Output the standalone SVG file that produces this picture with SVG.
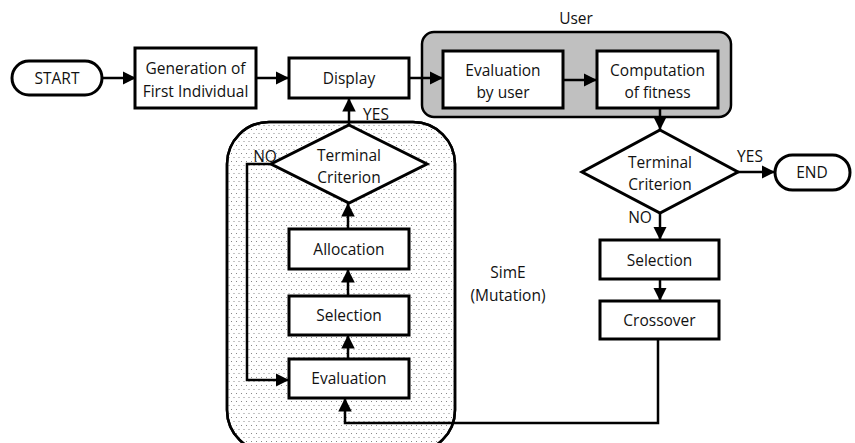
<svg xmlns="http://www.w3.org/2000/svg" width="855" height="443" viewBox="0 0 855 443">
<style>
.box{fill:#fff;stroke:#000;stroke-width:3}
.t{font-family:"Open Sans","Noto Sans",sans-serif;font-size:15.5px;fill:#111;text-anchor:middle}
.c{fill:none;stroke:#000;stroke-width:2.5}
</style>
<defs>
<marker id="ah" viewBox="0 0 10 10" refX="10" refY="5" markerWidth="5.4" markerHeight="5.6" orient="auto" markerUnits="strokeWidth">
<path d="M0,0 L10,5 L0,10 z" fill="#000"/>
</marker>
<pattern id="dots" width="5" height="8" patternUnits="userSpaceOnUse">
<rect x="1" y="1" width="1" height="1" fill="#888"/>
<rect x="3.5" y="5" width="1" height="1" fill="#888"/>
</pattern>
</defs>
<g id="sime-group">
<rect x="227" y="122" width="228" height="330" rx="42" fill="#fff" stroke="#000" stroke-width="2.5"/>
<rect x="227" y="122" width="228" height="330" rx="42" fill="url(#dots)" stroke="#000" stroke-width="2.5"/>
<text class="t" x="508" y="278">SimE</text>
<text class="t" x="508" y="301">(Mutation)</text>
</g>
<g id="user-group">
<rect x="422" y="32" width="309" height="85" rx="12" fill="#c0c0c0" stroke="#000" stroke-width="2.5"/>
<text class="t" x="576" y="24">User</text>
</g>
<g id="connectors">
<path class="c" d="M102,78 H136" marker-end="url(#ah)"/>
<path class="c" d="M256,78 H289" marker-end="url(#ah)"/>
<path class="c" d="M409,78 H443" marker-end="url(#ah)"/>
<path class="c" d="M563,80 H597" marker-end="url(#ah)"/>
<path class="c" d="M660,108 V130" marker-end="url(#ah)"/>
<path class="c" d="M738,172 H775" marker-end="url(#ah)"/>
<path class="c" d="M660,212 V240" marker-end="url(#ah)"/>
<path class="c" d="M660,279 V301" marker-end="url(#ah)"/>
<path class="c" d="M658,339 V423 H345 V398" marker-end="url(#ah)"/>
<path class="c" d="M348,359 V335" marker-end="url(#ah)"/>
<path class="c" d="M348,296 V269" marker-end="url(#ah)"/>
<path class="c" d="M348,229 V203" marker-end="url(#ah)"/>
<path class="c" d="M349,125 V98" marker-end="url(#ah)"/>
<path class="c" d="M271,164 H247 V380 H289" marker-end="url(#ah)"/>
<text class="t" x="376" y="120">YES</text>
<text class="t" x="265" y="162">NO</text>
<text class="t" x="750" y="162">YES</text>
<text class="t" x="640" y="223">NO</text>
</g>
<g id="start">
<rect x="12" y="61" width="90" height="34" rx="17" class="box"/>
<text class="t" x="57" y="84">START</text>
</g>
<g id="generation">
<rect x="135" y="48" width="121" height="60" class="box"/>
<text class="t" x="195.5" y="74">Generation of</text>
<text class="t" x="195.5" y="97">First Individual</text>
</g>
<g id="display">
<rect x="289" y="58" width="120" height="40" class="box"/>
<text class="t" x="349" y="84">Display</text>
</g>
<g id="evaluation-by-user">
<rect x="443" y="51" width="120" height="57" class="box"/>
<text class="t" x="503" y="76">Evaluation</text>
<text class="t" x="503" y="98">by user</text>
</g>
<g id="computation">
<rect x="597" y="51" width="121" height="57" class="box"/>
<text class="t" x="657.5" y="76">Computation</text>
<text class="t" x="657.5" y="98">of fitness</text>
</g>
<g id="terminal2">
<path d="M660,130 L738,172 L660,213 L582,172 Z" class="box"/>
<text class="t" x="660" y="168">Terminal</text>
<text class="t" x="660" y="190">Criterion</text>
</g>
<g id="end">
<rect x="775" y="155" width="75" height="35" rx="17.5" class="box"/>
<text class="t" x="812" y="178">END</text>
</g>
<g id="selection2">
<rect x="600" y="240" width="119" height="39" class="box"/>
<text class="t" x="659.5" y="266">Selection</text>
</g>
<g id="crossover">
<rect x="600" y="301" width="119" height="38" class="box"/>
<text class="t" x="659.5" y="326">Crossover</text>
</g>
<g id="terminal1">
<path d="M349,125 L427,164 L349,203 L271,164 Z" class="box"/>
<text class="t" x="349" y="161">Terminal</text>
<text class="t" x="349" y="183">Criterion</text>
</g>
<g id="allocation">
<rect x="289" y="229" width="120" height="40" class="box"/>
<text class="t" x="349" y="255">Allocation</text>
</g>
<g id="selection1">
<rect x="289" y="296" width="120" height="39" class="box"/>
<text class="t" x="349" y="321">Selection</text>
</g>
<g id="evaluation">
<rect x="289" y="359" width="120" height="39" class="box"/>
<text class="t" x="349" y="384">Evaluation</text>
</g>
</svg>
